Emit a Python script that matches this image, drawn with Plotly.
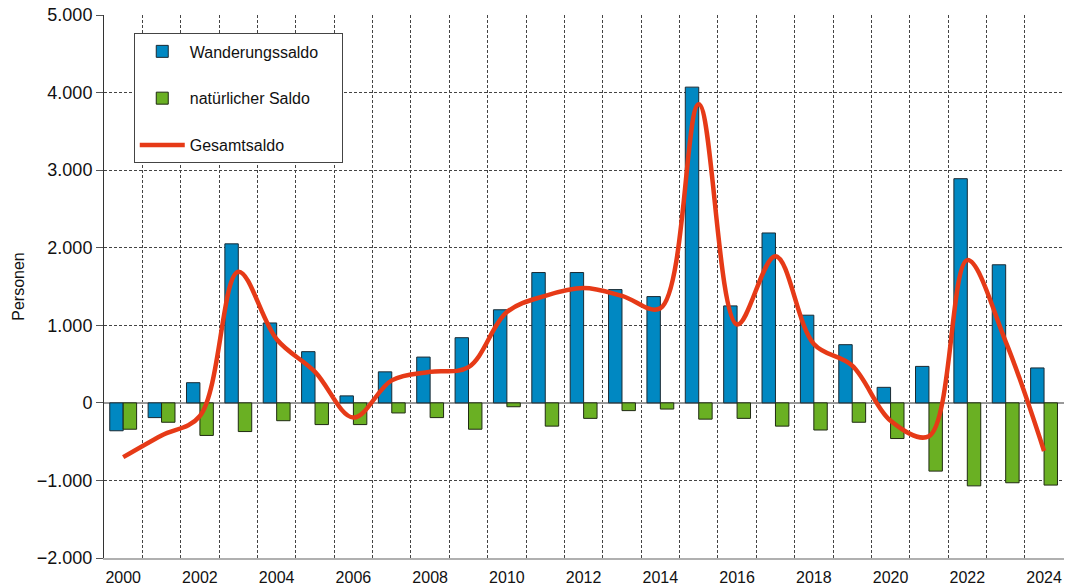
import plotly.graph_objects as go

years = list(range(2000, 2025))
wanderungssaldo = [-360, -190, 260, 2050, 1030, 660, 90, 400, 590, 840,
                   1200, 1680, 1680, 1460, 1370, 4070, 1250, 2190, 1130, 750,
                   200, 470, 2890, 1780, 450]
natuerlicher_saldo = [-340, -250, -420, -370, -230, -280, -280, -130, -190, -340,
                      -50, -300, -200, -100, -80, -210, -200, -300, -350, -250,
                      -460, -880, -1070, -1030, -1060]
gesamtsaldo = [-700, -420, -170, 1690, 820, 400, -190, 290, 400, 460,
               1170, 1380, 1480, 1380, 1220, 3850, 1010, 1890, 760, 480,
               -230, -430, 1840, 790, -620]

y_ticks = [-2000, -1000, 0, 1000, 2000, 3000, 4000, 5000]
x_ticks = list(range(2000, 2025, 2))

FONT = "Liberation Sans, Arial, sans-serif"
PAD = "\u00a0" * 4  # widens the legend box a little

fig = go.Figure()
fig.add_trace(go.Bar(
    x=years, y=wanderungssaldo, name="Wanderungssaldo" + PAD,
    marker=dict(color="#0088C2", line=dict(color="#1a2a33", width=1)),
    legendgroup="a",
))
fig.add_trace(go.Bar(
    x=years, y=natuerlicher_saldo, name="natürlicher Saldo",
    marker=dict(color="#6AB023", line=dict(color="#1f2a12", width=1)),
    legendgroup="b",
))
fig.add_trace(go.Scatter(
    x=years, y=gesamtsaldo, name="Gesamtsaldo", mode="lines",
    line=dict(color="#E63A17", width=4.5, shape="spline", smoothing=1.0),
    legendgroup="c",
))

fig.update_layout(
    width=1070, height=588,
    margin=dict(l=104, r=6, t=15, b=30, autoexpand=False),
    paper_bgcolor="white", plot_bgcolor="white",
    barmode="group", bargap=0.3, bargroupgap=0,
    separators=",.",
    font=dict(family=FONT, color="#111111"),
    showlegend=True,
    legend=dict(
        x=0.031, y=0.966, xanchor="left", yanchor="top",
        bgcolor="white", bordercolor="#444444", borderwidth=1,
        font=dict(size=16, family=FONT, color="#111111"),
        tracegroupgap=23,
        itemwidth=45,
    ),
    xaxis=dict(
        range=[1999.5, 2024.52], automargin=False,
        tickmode="array", tickvals=x_ticks, ticktext=[str(v) for v in x_ticks],
        tickfont=dict(size=16, family=FONT, color="#111111"),
        showgrid=False, ticks="", ticklabelstandoff=4,
        showline=True, linecolor="#b0b0b0", linewidth=2,
        zeroline=False,
        minor=dict(tick0=1999.5, dtick=1, showgrid=True, gridcolor="#444444",
                   griddash="3px,2px", gridwidth=1, ticks=""),
    ),
    yaxis=dict(
        range=[-2000, 5000], automargin=False,
        tickmode="array", tickvals=y_ticks, tickformat=",d",
        tickfont=dict(size=18, family=FONT, color="#111111"),
        showgrid=True, gridcolor="#444444", griddash="3px,2px", gridwidth=1,
        ticks="outside", ticklen=7, tickcolor="#555555",
        showline=True, linecolor="#333333", linewidth=1,
        zeroline=True, zerolinecolor="#999999", zerolinewidth=1.5,
        title=dict(text="Personen", font=dict(size=16, family=FONT, color="#111111"),
                   standoff=8),
    ),
)

fig.write_html("out.html", config={"displayModeBar": False},
               post_script="document.body.style.margin='0px';")
